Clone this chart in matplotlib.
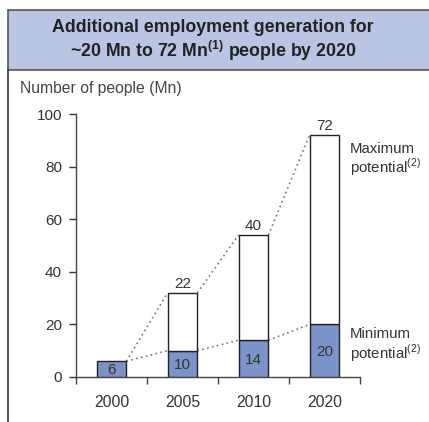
import matplotlib
matplotlib.use("Agg")
import matplotlib.pyplot as plt
from matplotlib.patches import Rectangle
from matplotlib.lines import Line2D

plt.rcParams["font.family"] = ["Liberation Sans", "DejaVu Sans"]
plt.rcParams["mathtext.fontset"] = "custom"
plt.rcParams["mathtext.rm"] = "Liberation Sans"
plt.rcParams["mathtext.bf"] = "Liberation Sans:bold"

years = ["2000", "2005", "2010", "2020"]
minimum = [6, 10, 14, 20]
additional = [0, 22, 40, 72]
add_labels = ["", "22", "40", "72"]
yticks = [0, 20, 40, 60, 80, 100]

W, H = 429, 422
fig = plt.figure(figsize=(W / 100, H / 100), dpi=100)
fig.patch.set_facecolor("white")

def fx(px):
    return px / W

def fy(py):
    return 1 - py / H

# header box
fig.add_artist(Rectangle((fx(8), fy(70)), fx(440) - fx(8), fy(10) - fy(70),
                         transform=fig.transFigure, facecolor="#b9c5e3",
                         edgecolor="#555555", linewidth=1.2, clip_on=False))
fig.add_artist(Line2D([fx(8), fx(8)], [fy(70), fy(425)], transform=fig.transFigure,
                      color="#333333", linewidth=1.2))
fig.text(fx(213), fy(27), "Additional employment generation for", ha="center", va="center",
         fontsize=12.8, fontweight="bold", color="#222222")
fig.text(fx(213), fy(51), r"~20 Mn to 72 Mn$^{\mathbf{(1)}}$ people by 2020", ha="center",
         va="center", fontsize=12.8, fontweight="bold", color="#222222")
fig.text(fx(20), fy(89), "Number of people (Mn)", ha="left", va="center",
         fontsize=11.3, color="#444444")

x0, x1, y0, y1 = 76, 360, 377, 114
ax = fig.add_axes([fx(x0), fy(y0), fx(x1) - fx(x0), fy(y1) - fy(y0)])
ax.set_xlim(-0.5, 3.5)
ax.set_ylim(0, 100)
for s in ["top", "right"]:
    ax.spines[s].set_visible(False)
for s in ["left", "bottom"]:
    ax.spines[s].set_color("#444444")
    ax.spines[s].set_linewidth(1.0)
ax.set_yticks(yticks)
ax.set_yticklabels([str(v) for v in yticks])
ax.set_xticks(range(len(years)))
ax.set_xticklabels(years)
ax.tick_params(axis="x", length=0, pad=13, labelsize=11.3, colors="#333333")
ax.tick_params(axis="y", length=5, width=1, pad=5, labelsize=11, colors="#333333",
               direction="out")
ax.set_xticks([-0.5, 0.5, 1.5, 2.5, 3.5], minor=True)
ax.tick_params(axis="x", which="minor", length=5, width=1, color="#444444", direction="out")

bw = 0.42
xs = list(range(len(years)))
ax.bar(xs, minimum, width=bw, color="#7b93c9", edgecolor="#222222", linewidth=1.0, zorder=3)
tops = [m + a for m, a in zip(minimum, additional)]
for i in xs:
    if additional[i] > 0:
        ax.bar(i, additional[i], bottom=minimum[i], width=bw, color="white",
               edgecolor="#222222", linewidth=1.0, zorder=3)
        ax.text(i, tops[i] + 0.8, add_labels[i], ha="center", va="bottom",
                fontsize=11, color="#333333")
    ax.text(i, minimum[i] / 2 - 0.5, str(minimum[i]), ha="center", va="center",
            fontsize=11, color="#333333", zorder=4)

# dotted connectors between bar tops
for i in range(len(xs) - 1):
    ax.plot([i + bw / 2, i + 1 - bw / 2], [tops[i], tops[i + 1]], linestyle=(0, (1, 2)),
            color="#777777", linewidth=1.2, zorder=2)
    ax.plot([i + bw / 2, i + 1 - bw / 2], [minimum[i], minimum[i + 1]], linestyle=(0, (1, 2)),
            color="#777777", linewidth=1.2, zorder=2)

ax.text(3 + bw / 2 + 0.15, 82.5, "Maximum\npotential$^{(2)}$", ha="left", va="center",
        fontsize=10.8, color="#333333", linespacing=1.05)
ax.text(3 + bw / 2 + 0.15, 12, "Minimum\npotential$^{(2)}$", ha="left", va="center",
        fontsize=10.8, color="#333333", linespacing=1.05)

fig.savefig("out.png", dpi=100)
